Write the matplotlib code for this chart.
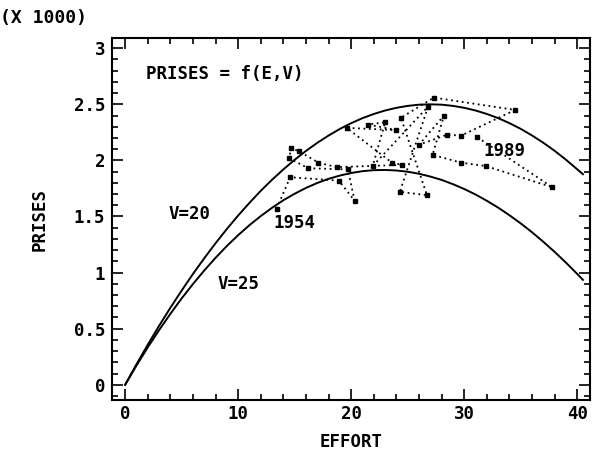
import numpy as np
import matplotlib
matplotlib.use("Agg")
import matplotlib.pyplot as plt
from matplotlib.ticker import MultipleLocator

# Yield curves (thousands of tonnes) against fishing effort
effort_curve = [0, 1, 2, 3, 4, 5, 6, 7, 8, 9, 10, 11, 12, 13, 14, 15, 16,
                17, 18, 19, 20, 21, 22, 23, 24, 25, 26, 27, 28, 29, 30, 31,
                32, 33, 34, 35, 36, 37, 38, 39, 40, 40.5]
prises_v20 = [0, 0.182, 0.357, 0.525, 0.686, 0.840, 0.988, 1.128, 1.262,
              1.389, 1.509, 1.622, 1.729, 1.828, 1.920, 2.006, 2.085, 2.157,
              2.222, 2.281, 2.332, 2.377, 2.414, 2.445, 2.469, 2.486, 2.497,
              2.500, 2.497, 2.486, 2.469, 2.445, 2.414, 2.377, 2.332, 2.281,
              2.222, 2.157, 2.085, 2.006, 1.920, 1.877]
prises_v25 = [0, 0.171, 0.333, 0.487, 0.632, 0.770, 0.898, 1.019, 1.132,
              1.237, 1.334, 1.423, 1.504, 1.578, 1.645, 1.703, 1.755, 1.799,
              1.836, 1.865, 1.888, 1.904, 1.913, 1.915, 1.910, 1.899, 1.881,
              1.856, 1.826, 1.788, 1.745, 1.696, 1.640, 1.579, 1.511, 1.438,
              1.359, 1.274, 1.184, 1.088, 0.987, 0.935]

# Observed effort / catch, 1954 -> 1989
effort_obs = [13.4, 14.6, 18.9, 20.3, 19.7, 16.2, 14.5, 14.7, 15.4, 17.1,
              18.7, 24.5, 23.6, 19.6, 24.0, 21.5, 23.0, 21.9, 26.8, 24.3,
              26.7, 24.4, 27.3, 34.5, 29.7, 28.5, 26.0, 28.2, 27.2, 29.7,
              31.9, 37.8, 31.1]
prises_obs = [1.57, 1.85, 1.82, 1.64, 1.92, 1.93, 2.02, 2.11, 2.08, 1.98,
              1.94, 1.96, 1.98, 2.29, 2.27, 2.32, 2.34, 1.95, 2.48, 1.72,
              1.69, 2.38, 2.56, 2.45, 2.22, 2.23, 2.14, 2.40, 2.05, 1.98,
              1.95, 1.76, 2.21]
year_first, year_last = "1954", "1989"

font = {"family": "DejaVu Sans Mono", "fontweight": "bold"}
fs = 12.5

fig = plt.figure(figsize=(6.03, 4.71), dpi=100)
ax = fig.add_axes([0.186, 0.151, 0.792, 0.768])

ax.plot(effort_curve, prises_v20, color="black", linewidth=1.4)
ax.plot(effort_curve, prises_v25, color="black", linewidth=1.4)
ax.plot(effort_obs, prises_obs, color="black", linewidth=1.3,
        linestyle=(0, (1, 2.0)), marker="s", markersize=3.2)

ax.set_xlim(-1.15, 41.1)
ax.set_ylim(-0.135, 3.09)
ax.xaxis.set_major_locator(MultipleLocator(10))
ax.xaxis.set_minor_locator(MultipleLocator(2))
ax.yaxis.set_major_locator(MultipleLocator(0.5))
ax.yaxis.set_minor_locator(MultipleLocator(0.1))
ax.tick_params(which="both", direction="in", top=True, right=True,
               width=1.2)
ax.tick_params(which="major", length=8, labelsize=fs, pad=5)
ax.tick_params(which="minor", length=4)
ax.tick_params(axis="x", which="major", pad=4)
ax.yaxis.set_major_formatter(plt.FuncFormatter(lambda v, p: f"{v:g}"))
for lab in ax.get_xticklabels() + ax.get_yticklabels():
    lab.set_family("DejaVu Sans Mono")
    lab.set_fontweight("bold")
for sp in ax.spines.values():
    sp.set_linewidth(1.5)

ax.set_xlabel("EFFORT", fontsize=fs, labelpad=7, **font)
ax.set_ylabel("PRISES", fontsize=fs, labelpad=18, **font)

ax.text(1.8, 2.73, "PRISES = f(E,V)", fontsize=fs, **font)
ax.text(3.8, 1.48, "V=20", fontsize=fs, **font)
ax.text(8.2, 0.85, "V=25", fontsize=fs, **font)
ax.text(effort_obs[0] - 0.3, prises_obs[0] - 0.05, year_first,
        fontsize=fs, va="top", **font)
ax.text(effort_obs[-1] + 0.6, prises_obs[-1] - 0.05, year_last,
        fontsize=fs, va="top", **font)
fig.text(0.0, 0.962, "(X 1000)", fontsize=13, va="center", **font)

fig.savefig("out.png", dpi=100)
